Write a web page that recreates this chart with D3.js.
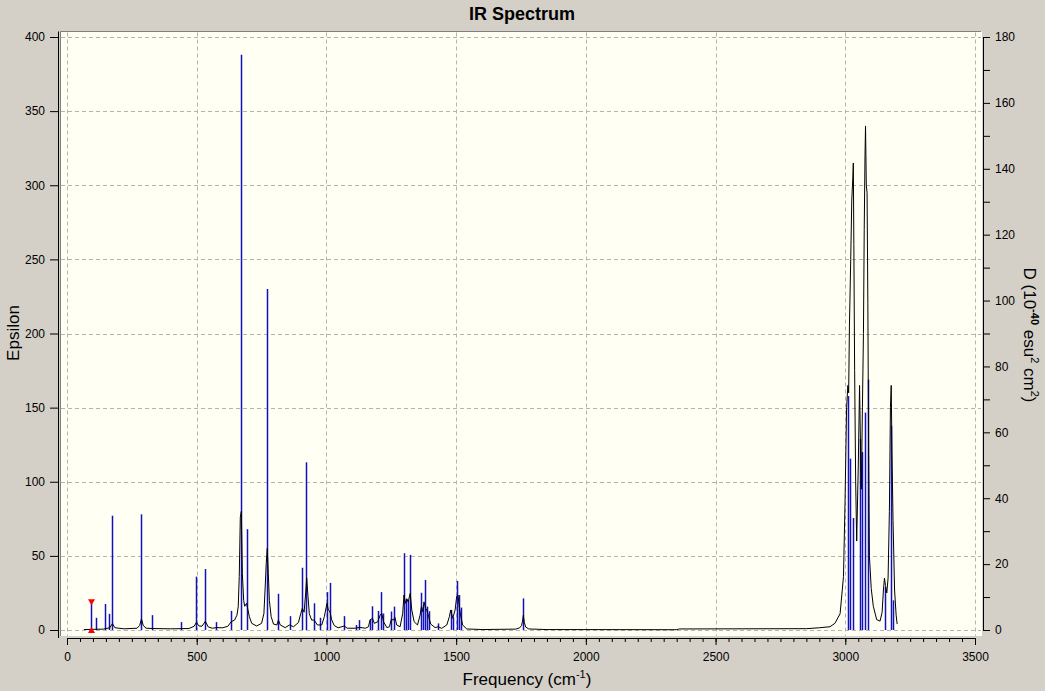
<!DOCTYPE html>
<html>
<head>
<meta charset="utf-8">
<script src="https://cdn.jsdelivr.net/npm/d3@7"></script>
<style>
  body { margin: 0; background: #d4d0c8; }
  svg { display: block; font-family: "Liberation Sans", Arial, sans-serif; }
</style>
</head>
<body>
<div id="viz"></div>
<script>
// tick labels
var freqTicks = [0, 500, 1000, 1500, 2000, 2500, 3000, 3500];
var epsTicks = [0, 50, 100, 150, 200, 250, 300, 350, 400];
var dTicks = [0, 20, 40, 60, 80, 100, 120, 140, 160, 180];

// stick spectrum: frequency (cm-1) and D (10^-40 esu^2 cm^2)
var stickFreq = [94, 113, 148, 161, 175, 287, 329, 441, 499, 533, 576, 633, 672, 695, 772,
  815, 858, 907, 923, 953, 977, 1002, 1015, 1069, 1113, 1127, 1168, 1177, 1198, 1212,
  1218, 1250, 1262, 1299, 1307, 1315, 1324, 1366, 1371, 1379, 1387, 1394, 1431, 1479,
  1487, 1505, 1512, 1519, 1759, 3010, 3020, 3031, 3055, 3066, 3077, 3087, 3153, 3175, 3182];
var stickD = [9, 3.7, 7.9, 4.9, 34.7, 35.1, 4.5, 2.4, 16.2, 18.5, 2.4, 5.8, 174.6, 30.6, 103.5,
  11, 4.2, 18.9, 50.9, 8.1, 3.7, 11.5, 14.3, 4.2, 1.5, 3, 3.2, 7.2, 5.8, 11.5,
  5, 5.6, 7.1, 23.3, 9.5, 9, 22.8, 11.3, 7.1, 15.2, 7.1, 5.7, 2, 6.1,
  3.8, 14.9, 10.6, 6.8, 9.6, 71, 52, 34, 58, 54, 66, 76, 13, 62, 9];
var selectedFreq = 94;

// broadened spectrum: frequency and epsilon
var curveFreq = [65, 140, 165, 175, 185, 220, 270, 280, 287, 294, 305, 330, 400, 470, 490, 499, 508,
  520, 533, 545, 560, 577, 600, 620, 633, 646, 655, 660, 664, 668, 672, 676, 681, 685, 692, 697,
  703, 712, 731, 750, 759, 764, 768, 772, 776, 780, 787, 796, 809, 815, 822, 841, 858, 873, 892,
  901, 907, 914, 920, 924, 929, 934, 943, 953, 965, 982, 992, 1002, 1007, 1014, 1020, 1030, 1045,
  1069, 1080, 1113, 1127, 1150, 1162, 1168, 1177, 1185, 1198, 1207, 1213, 1220, 1233, 1243, 1250,
  1258, 1264, 1271, 1284, 1294, 1299, 1304, 1310, 1315, 1323, 1329, 1338, 1351, 1361, 1366, 1371,
  1376, 1382, 1387, 1394, 1402, 1419, 1431, 1444, 1464, 1474, 1479, 1487, 1496, 1502, 1507, 1512,
  1517, 1525, 1541, 1600, 1730, 1745, 1752, 1756, 1759, 1763, 1768, 1780, 1850, 2350, 2360, 2850,
  2900, 2941, 2960, 2980, 2993, 2999, 3005, 3010, 3013, 3016, 3021, 3025, 3029, 3031, 3033, 3036,
  3040, 3044, 3050, 3055, 3059, 3062, 3066, 3070, 3073, 3076, 3078, 3081, 3084, 3087, 3090, 3093,
  3100, 3108, 3121, 3134, 3142, 3147, 3151, 3155, 3160, 3165, 3170, 3174, 3177, 3180, 3184, 3190,
  3196, 3200];
var curveEps = [0.3, 0.6, 1.5, 4.3, 1.5, 0.8, 1.2, 3, 7.4, 3, 1.2, 1, 0.8, 1, 2.5, 5.2, 2.8,
  2.5, 5.8, 2, 1.2, 1.6, 1.5, 2.5, 5.6, 6.7, 10, 15.7, 36, 76, 80, 38, 20, 16, 18, 14,
  9, 4.5, 2.7, 4.5, 11, 29, 45, 55, 38, 20, 9, 4, 3.4, 6.7, 3.4, 1.6, 3.4, 2.2, 5,
  11, 14.6, 12, 25, 35, 22.5, 11, 6.7, 6.7, 3.4, 3.4, 9, 18, 14, 12, 7, 3, 1.5,
  2.7, 1.2, 1.2, 1.8, 1.2, 2.2, 6.7, 7.9, 4.5, 5.6, 10, 11.2, 5.6, 1.6, 2.2, 7.2,
  6.7, 8.5, 3.4, 2.2, 11.2, 23.6, 18, 21, 19, 24.7, 13.5, 5.6, 3.4, 10, 15.7, 12.4,
  19, 14.6, 13.5, 9, 4, 1.6, 2.2, 1.1, 3.4, 9, 13.5, 7.9, 13.5, 22.5, 23.6, 15.7,
  10, 3.4, 0.7, 0.3, 0.6, 1.5, 3, 6, 10, 5, 2, 0.7, 0.3, 0.2, 0.7, 0.9,
  1.5, 2.2, 4.5, 11, 36, 86, 150, 165, 160, 205, 250, 290, 305, 315, 260, 175,
  100, 60, 110, 165, 120, 95, 150, 200, 270, 320, 340, 300, 295, 220, 120, 50,
  28, 16, 7, 6, 12, 27, 35, 30, 25, 35, 80, 150, 165, 120, 74, 27,
  10, 4];

var W = 1045, H = 691;

var x = d3.scaleLinear().domain([0, 3500]).range([67, 975]);
var yEps = d3.scaleLinear().domain([0, 400]).range([630, 37]);
var yD = d3.scaleLinear().domain([0, 180]).range([630, 37]);

var svg = d3.select("#viz").append("svg")
  .attr("width", W)
  .attr("height", H);

// plot area
var plot = {left: 61, top: 31.5, right: 981, bottom: 636};
svg.append("rect")
  .attr("x", plot.left).attr("y", plot.top)
  .attr("width", plot.right - plot.left).attr("height", plot.bottom - plot.top)
  .attr("fill", "#fffff4");
svg.append("path")
  .attr("d", "M" + (plot.left - 0.5) + "," + plot.bottom + "V" + plot.top + "H" + plot.right)
  .attr("fill", "none").attr("stroke", "#808080");
svg.append("line")
  .attr("x1", plot.right + 0.5).attr("x2", plot.right + 0.5)
  .attr("y1", plot.top).attr("y2", plot.bottom)
  .attr("stroke", "#ffffff");

function px(v) { return Math.round(v) + 0.5; }

// grid
var grid = svg.append("g")
  .attr("stroke", "#b4b4b4")
  .attr("stroke-dasharray", "4,3")
  .attr("fill", "none");
grid.selectAll("line.v").data(freqTicks).enter().append("line")
  .attr("class", "v")
  .attr("x1", function(d) { return px(x(d)); })
  .attr("x2", function(d) { return px(x(d)); })
  .attr("y1", plot.top + 1).attr("y2", plot.bottom);
grid.selectAll("line.h").data(epsTicks).enter().append("line")
  .attr("class", "h")
  .attr("y1", function(d) { return px(yEps(d)); })
  .attr("y2", function(d) { return px(yEps(d)); })
  .attr("x1", plot.left).attr("x2", plot.right);

// sticks
var sticks = stickFreq.map(function(f, i) { return {f: f, d: stickD[i]}; });
svg.append("g").selectAll("line").data(sticks).enter().append("line")
  .attr("x1", function(d) { return px(x(d.f)); })
  .attr("x2", function(d) { return px(x(d.f)); })
  .attr("y1", yD(0))
  .attr("y2", function(d) { return yD(d.d); })
  .attr("stroke", "#1010c0")
  .attr("stroke-width", 1.5);

// broadened curve
var curve = curveFreq.map(function(f, i) { return [f, curveEps[i]]; });
var line = d3.line()
  .x(function(d) { return x(d[0]); })
  .y(function(d) { return yEps(d[1]); });
svg.append("path")
  .datum(curve)
  .attr("d", line)
  .attr("fill", "none")
  .attr("stroke", "#000")
  .attr("stroke-width", 1);

// selected mode marker
var sel = sticks.filter(function(d) { return d.f == selectedFreq; })[0];
var mx = px(x(sel.f)), mTop = yD(sel.d), mBot = yD(0);
svg.append("path")
  .attr("d", "M" + (mx - 3.5) + "," + (mTop - 1) + "H" + (mx + 3.5) + "L" + mx + "," + (mTop + 5) + "Z")
  .attr("fill", "#ff0000");
svg.append("path")
  .attr("d", "M" + (mx - 3.5) + "," + (mBot + 3) + "H" + (mx + 3.5) + "L" + mx + "," + (mBot - 3) + "Z")
  .attr("fill", "#ff0000");

// axes
function styleAxis(g) {
  g.selectAll("text").attr("font-size", 12).attr("fill", "#000")
    .attr("font-family", "'Liberation Sans', Arial, sans-serif");
  g.selectAll("line").attr("stroke", "#000");
  g.selectAll("path").attr("stroke", "#000");
}
var fmt = d3.format("d");

// left
var gl = svg.append("g").attr("transform", "translate(58,0)")
  .call(d3.axisLeft(yEps).tickValues(epsTicks).tickFormat(fmt).tickSize(8).tickPadding(5).tickSizeOuter(0))
  .call(styleAxis);
gl.select(".domain").remove();
svg.append("line")
  .attr("x1", 58.5).attr("x2", 58.5).attr("y1", plot.top).attr("y2", 638)
  .attr("stroke", "#000");

// bottom: minor and major
var minorFreq = d3.range(0, 3501, 50);
svg.append("g").attr("transform", "translate(0,638)")
  .call(d3.axisBottom(x).tickValues(minorFreq).tickSize(4).tickFormat("").tickSizeOuter(0))
  .call(styleAxis);
svg.append("g").attr("transform", "translate(0,638)")
  .call(d3.axisBottom(x).tickValues(freqTicks).tickFormat(fmt).tickSize(7).tickPadding(7).tickSizeOuter(0))
  .call(styleAxis)
  .select(".domain").remove();

// right: ticks every 10, labels every 20
var minorD = d3.range(0, 181, 10);
svg.append("g").attr("transform", "translate(983,0)")
  .call(d3.axisRight(yD).tickValues(minorD).tickSize(7).tickSizeOuter(7).tickPadding(5)
    .tickFormat(function(d) { return dTicks.indexOf(d) >= 0 ? fmt(d) : ""; }))
  .call(styleAxis);

// titles
svg.append("text")
  .attr("x", 522).attr("y", 20)
  .attr("text-anchor", "middle")
  .attr("font-size", 18).attr("font-weight", "bold")
  .text("IR Spectrum");

var xl = svg.append("text")
  .attr("x", 527).attr("y", 685)
  .attr("text-anchor", "middle")
  .attr("font-size", 17);
xl.append("tspan").text("Frequency (cm");
xl.append("tspan").attr("font-size", 11).attr("dy", -7).text("-1");
xl.append("tspan").attr("dy", 7).text(")");

svg.append("text")
  .attr("transform", "translate(19,333) rotate(-90)")
  .attr("text-anchor", "middle")
  .attr("font-size", 17)
  .text("Epsilon");

var yr = svg.append("text")
  .attr("transform", "translate(1024,335) rotate(90)")
  .attr("text-anchor", "middle")
  .attr("font-size", 17);
yr.append("tspan").text("D (10");
yr.append("tspan").attr("font-size", 11).attr("font-weight", "bold").attr("dy", -7).text("-40");
yr.append("tspan").attr("dy", 7).text(" esu");
yr.append("tspan").attr("font-size", 11).attr("dy", -7).text("2");
yr.append("tspan").attr("dy", 7).text(" cm");
yr.append("tspan").attr("font-size", 11).attr("dy", -7).text("2");
yr.append("tspan").attr("dy", 7).text(")");
</script>
</body>
</html>
